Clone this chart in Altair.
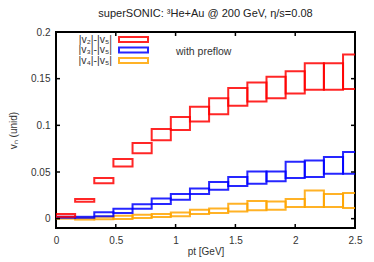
import altair as alt
import pandas as pd

# ---- data ----
bin_lo = [0.00, 0.16, 0.32, 0.48, 0.64, 0.80, 0.96, 1.12, 1.28, 1.44, 1.60, 1.76, 1.92, 2.08, 2.24, 2.40]
bin_hi = [0.16, 0.32, 0.48, 0.64, 0.80, 0.96, 1.12, 1.28, 1.44, 1.60, 1.76, 1.92, 2.08, 2.24, 2.40, 2.56]

v2_hi = [0.005, 0.021, 0.0435, 0.064, 0.081, 0.096, 0.109, 0.120, 0.129, 0.140, 0.146, 0.152, 0.158, 0.1665, 0.1665, 0.176]
v2_lo = [0.002, 0.018, 0.038, 0.056, 0.070, 0.084, 0.095, 0.104, 0.112, 0.121, 0.1255, 0.129, 0.134, 0.138, 0.138, 0.139]
v3_hi = [0.002, 0.002, 0.007, 0.0105, 0.0155, 0.0217, 0.0264, 0.0324, 0.0393, 0.0446, 0.0506, 0.0506, 0.061, 0.0624, 0.066, 0.0713]
v3_lo = [0.001, 0.001, 0.0025, 0.006, 0.0107, 0.0157, 0.0203, 0.0264, 0.031, 0.035, 0.0374, 0.040, 0.0435, 0.0446, 0.0481, 0.0481]
v4_hi = [0.001, 0.001, 0.002, 0.0032, 0.0043, 0.005, 0.0067, 0.0096, 0.011, 0.016, 0.0189, 0.0185, 0.021, 0.0303, 0.0264, 0.0275]
v4_lo = [0.0, -0.001, -0.0007, -0.0003, 0.0007, 0.0018, 0.0025, 0.005, 0.006, 0.0078, 0.0089, 0.0096, 0.0125, 0.0125, 0.0125, 0.0114]

series_labels = ["|v\u2082|-|v\u2085|", "|v\u2083|-|v\u2085|", "|v\u2084|-|v\u2085|"]
series_colors = ["#ff0000", "#0000ff", "#ffa500"]

x_ticks = [0.5, 1.0, 1.5, 2.0]
y_ticks = [0.0, 0.05, 0.1, 0.15]
x_labels = [0, 0.5, 1, 1.5, 2, 2.5]
y_labels = [0, 0.05, 0.1, 0.15, 0.2]

title_text = "superSONIC: \u00b3He+Au @ 200 GeV, \u03b7/s=0.08"
note_text = "with preflow"

FONT = "Liberation Sans"
W, H = 299, 196

rows = []
for lab, lo_arr, hi_arr in zip(series_labels, [v2_lo, v3_lo, v4_lo], [v2_hi, v3_hi, v4_hi]):
    for a, b, lo, hi in zip(bin_lo, bin_hi, lo_arr, hi_arr):
        rows.append({"series": lab, "x": a, "x2": b, "lo": lo, "hi": hi})
df = pd.DataFrame(rows)

xs = alt.Scale(domain=[0, 2.5], nice=False, zero=False)
ys = alt.Scale(domain=[-0.01, 0.2], nice=False, zero=False)
cs = alt.Scale(domain=series_labels, range=series_colors)

x_axis = alt.Axis(values=x_labels, format="~g", title="pt [GeV]",
                  titleX=W / 2, titleY=23, titleBaseline="middle")
y_axis = alt.Axis(values=y_labels, format="~g", title="v\u2099 (unid)",
                  titleX=-43, titleY=H / 2, titleBaseline="middle",
                  titleAlign="center", titleAngle=270)

layers = []
for lab in reversed(series_labels):
    sub = df[df["series"] == lab]
    layers.append(
        alt.Chart(sub).mark_rect(fillOpacity=0, strokeWidth=2, strokeOpacity=0.85, clip=True).encode(
            x=alt.X("x:Q", scale=xs, axis=x_axis),
            x2="x2:Q",
            y=alt.Y("lo:Q", scale=ys, axis=y_axis),
            y2="hi:Q",
            stroke=alt.Stroke("series:N", scale=cs, legend=None),
        )
    )

xt = pd.DataFrame({"t": x_ticks})
yt = pd.DataFrame({"t": y_ticks})
rule = dict(color="black", strokeWidth=1.5)
layers += [
    alt.Chart(xt).mark_rule(**rule).encode(x=alt.X("t:Q", scale=xs, axis=x_axis), y=alt.value(H), y2=alt.value(H - 4)),
    alt.Chart(xt).mark_rule(**rule).encode(x=alt.X("t:Q", scale=xs, axis=x_axis), y=alt.value(0), y2=alt.value(4)),
    alt.Chart(yt).mark_rule(**rule).encode(y=alt.Y("t:Q", scale=ys, axis=y_axis), x=alt.value(0), x2=alt.value(4)),
    alt.Chart(yt).mark_rule(**rule).encode(y=alt.Y("t:Q", scale=ys, axis=y_axis), x=alt.value(W), x2=alt.value(W - 4)),
]

# key, drawn gnuplot-style (label then sample box)
base = alt.Chart(pd.DataFrame({"k": [0]}))
for i, (lab, col) in enumerate(zip(series_labels, series_colors)):
    yy = 7.5 + 10.5 * i
    layers.append(base.mark_text(align="right", baseline="middle", fontSize=10.5, font=FONT,
                                 color="#333333", text=lab).encode(x=alt.value(56), y=alt.value(yy)))
    layers.append(base.mark_rect(fillOpacity=0, stroke=col, strokeWidth=2, strokeOpacity=0.85).encode(
        x=alt.value(63), x2=alt.value(92), y=alt.value(yy - 2.5), y2=alt.value(yy + 2.5)))

layers.append(base.mark_text(align="left", baseline="middle", fontSize=10.5, font=FONT,
                             color="#333333", text=note_text).encode(x=alt.value(120), y=alt.value(20)))

chart = alt.layer(*layers).properties(
    width=W, height=H,
    autosize="none",
    padding={"left": 48, "top": 24, "right": 10, "bottom": 32},
    title=alt.Title(title_text, fontSize=11, font=FONT, fontWeight="normal", color="#222222",
                    offset=8, anchor="middle"),
).configure_view(
    stroke="black", strokeWidth=2
).configure_axis(
    domain=False, ticks=False, tickSize=0, grid=False,
    labelFont=FONT, labelFontSize=10, labelColor="#333333", labelPadding=6,
    labelFlush=False, labelOverlap=False,
    titleFont=FONT, titleFontSize=10, titleFontWeight="normal", titleColor="#333333",
).configure_axisX(labelPadding=7)

chart.save("out.html", embed_options={"renderer": "svg", "actions": False})
